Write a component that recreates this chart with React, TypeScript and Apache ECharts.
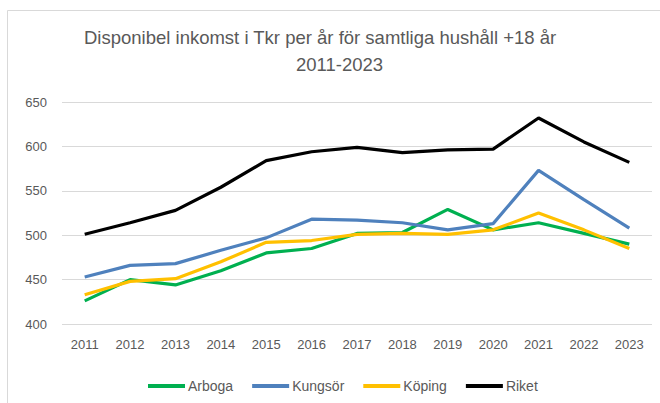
import React, { useEffect, useRef } from "react";
import * as echarts from "echarts";

const years = ["2011","2012","2013","2014","2015","2016","2017","2018","2019","2020","2021","2022","2023"];
const arboga = [426, 450, 444, 460, 480, 485, 502, 503, 529, 506, 514, 502, 490];
const kungsor = [453, 466, 468, 483, 497, 518, 517, 514, 506, 513, 573, 540, 508];
const koping = [433, 448, 451, 470, 492, 494, 501, 502, 501, 506, 525, 506, 485];
const riket = [501, 514, 528, 554, 584, 594, 599, 593, 596, 597, 632, 605, 582];

const titleLine1 = "Disponibel inkomst i Tkr per år för samtliga hushåll +18 år";
const titleLine2 = "2011-2023";

export default function App() {
  const ref = useRef<HTMLDivElement>(null);
  useEffect(() => {
    document.body.style.margin = "0";
    const chart = echarts.init(ref.current!, null, { renderer: "svg" });
    const font = "Liberation Sans";
    const mk = (name: string, data: number[], color: string) => ({
      name,
      type: "line",
      data,
      symbol: "none",
      lineStyle: { color, width: 3.2 },
      itemStyle: { color },
      z: name === "Riket" ? 3 : 2,
    });
    const titleStyle = {
      fontFamily: font,
      fontSize: 18.5,
      fontWeight: "normal",
      color: "#595959",
    };
    chart.setOption({
      animation: false,
      backgroundColor: "#ffffff",
      textStyle: { fontFamily: font },
      graphic: [
        {
          type: "rect",
          shape: { x: 7.5, y: 10.5, width: 700, height: 500 },
          style: { fill: "none", stroke: "#d9d9d9", lineWidth: 1 },
          silent: true,
        },
      ],
      title: [
        { text: titleLine1, left: 84, top: 28, padding: 0, textStyle: titleStyle },
        { text: titleLine2, left: 296, top: 55, padding: 0, textStyle: titleStyle },
      ],
      legend: {
        left: 143,
        top: 374,
        icon: "rect",
        itemWidth: 37,
        itemHeight: 4,
        itemGap: 19,
        textStyle: { fontFamily: font, fontSize: 14, color: "#595959", padding: [0, 0, 0, -2] },
        data: ["Arboga", "Kungsör", "Köping", "Riket"],
      },
      grid: { left: 62, right: 8, top: 102, bottom: 79 },
      xAxis: {
        type: "category",
        data: years,
        boundaryGap: true,
        axisLine: { show: false },
        axisTick: { show: false },
        axisLabel: { color: "#595959", fontSize: 13, fontFamily: font, margin: 14 },
      },
      yAxis: {
        type: "value",
        min: 400,
        max: 650,
        interval: 50,
        axisLine: { show: false },
        axisTick: { show: false },
        splitLine: { lineStyle: { color: "#d9d9d9", width: 1 } },
        axisLabel: { color: "#595959", fontSize: 13, fontFamily: font, margin: 15 },
      },
      series: [
        mk("Arboga", arboga, "#00B050"),
        mk("Kungsör", kungsor, "#4F81BD"),
        mk("Köping", koping, "#FFC000"),
        mk("Riket", riket, "#000000"),
      ],
    });
    return () => chart.dispose();
  }, []);
  return <div ref={ref} style={{ width: 660, height: 403 }} />;
}
